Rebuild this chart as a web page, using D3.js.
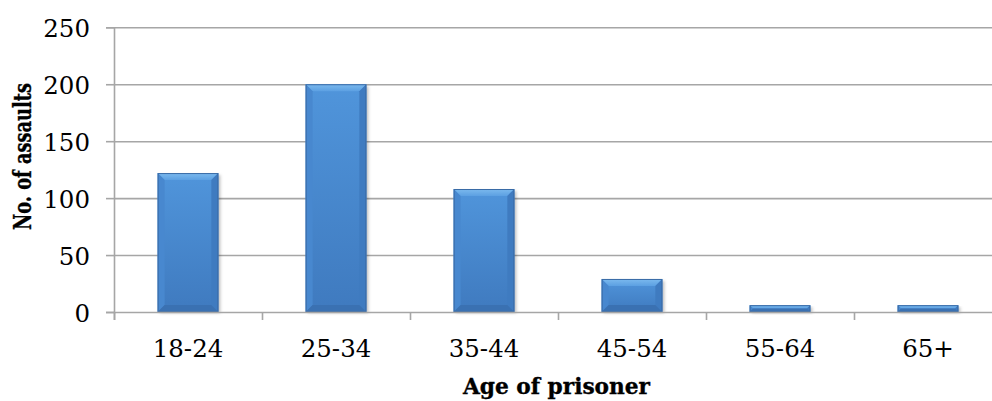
<!DOCTYPE html>
<html>
<head>
<meta charset="utf-8">
<script src="https://cdn.jsdelivr.net/npm/d3@7/dist/d3.min.js"></script>
<style>
  html, body { margin: 0; padding: 0; background: #fff; }
  svg { display: block; }
  .tick text { font-family: "DejaVu Serif", serif; font-size: 24.5px; fill: #000; }
  .title { font-family: "DejaVu Serif Condensed", "DejaVu Serif", serif; font-weight: bold; fill: #000; stroke: #000; stroke-width: 0.35px; }
</style>
</head>
<body>
<svg id="chart" width="992" height="401"></svg>
<script>
// Assaults by age group of prisoner
const categories = ["18-24", "25-34", "35-44", "45-54", "55-64", "65+"];
const assaults = [122, 200, 108, 29, 6, 6];
const yTicks = [0, 50, 100, 150, 200, 250];

const svg = d3.select("#chart");
const plotLeft = 114, plotRight = 1002, plotTop = 27.3, plotBottom = 312;

const x = d3.scaleBand().domain(categories).range([plotLeft, plotRight])
  .paddingInner(0.59).paddingOuter(0.295);
const y = d3.scaleLinear().domain([0, 250]).range([plotBottom, plotTop]);

// category boundaries for the x tick marks
const edges = d3.scalePoint().domain(d3.range(categories.length + 1)).range([plotLeft, plotRight]);

const gridColor = "#a6a6a6";

// horizontal gridlines
const grid = svg.append("g").attr("transform", `translate(${plotLeft},0)`)
  .call(d3.axisLeft(y).tickValues(yTicks.slice(1)).tickSize(-(plotRight - plotLeft)).tickFormat(""));
grid.select(".domain").remove();
grid.selectAll("line").attr("stroke", gridColor).attr("stroke-width", 1.6);

// gradients and shadow
const defs = svg.append("defs");
const face = defs.append("linearGradient").attr("id", "face").attr("x1", 0).attr("y1", 0).attr("x2", 0).attr("y2", 1);
face.append("stop").attr("offset", "0%").attr("stop-color", "#5095db");
face.append("stop").attr("offset", "100%").attr("stop-color", "#3f7abf");
const topBevel = defs.append("linearGradient").attr("id", "topBevel").attr("x1", 0).attr("y1", 0).attr("x2", 0).attr("y2", 1);
topBevel.append("stop").attr("offset", "0%").attr("stop-color", "#7cbaee");
topBevel.append("stop").attr("offset", "100%").attr("stop-color", "#5ca0e2");
const shadow = defs.append("filter").attr("id", "shadow").attr("x", "-20%").attr("y", "-20%").attr("width", "140%").attr("height", "140%");
shadow.append("feGaussianBlur").attr("stdDeviation", 1.6);

// bars with a bevelled look
const bars = svg.append("g").selectAll("g").data(categories.map((c, i) => ({ c, v: assaults[i] })))
  .join("g");

bars.each(function (d) {
  const g = d3.select(this);
  const x0 = x(d.c), w = x.bandwidth();
  const y0 = y(d.v), h = y(0) - y(d.v);
  const b = Math.min(7, h / 2);
  const x1 = x0 + w, y1 = y0 + h;
  g.append("rect").attr("x", x0 + 2).attr("y", y0 + 2).attr("width", w).attr("height", h - 1)
    .attr("fill", "rgba(0,0,0,0.25)").attr("filter", "url(#shadow)");
  g.append("rect").attr("x", x0).attr("y", y0).attr("width", w).attr("height", h).attr("fill", "url(#face)");
  const poly = (pts, fill) => g.append("polygon").attr("points", pts.map(p => p.join(",")).join(" ")).attr("fill", fill);
  poly([[x0, y0], [x1, y0], [x1 - b, y0 + b], [x0 + b, y0 + b]], "url(#topBevel)");
  poly([[x0, y0], [x0 + b, y0 + b], [x0 + b, y1 - b], [x0, y1]], "#4888cf");
  poly([[x1, y0], [x1 - b, y0 + b], [x1 - b, y1 - b], [x1, y1]], "#3f7bc0");
  poly([[x0, y1], [x0 + b, y1 - b], [x1 - b, y1 - b], [x1, y1]], "#3a71b2");
  g.append("rect").attr("x", x0 + 0.5).attr("y", y0 + 0.5).attr("width", w - 1).attr("height", h - 1)
    .attr("fill", "none").attr("stroke", "#3a6ba6").attr("stroke-width", 1);
});

// y axis
const yAxis = svg.append("g").attr("transform", `translate(${plotLeft},0)`)
  .call(d3.axisLeft(y).tickValues(yTicks).tickSize(8).tickPadding(16));
yAxis.selectAll("line, .domain").attr("stroke", gridColor).attr("stroke-width", 1.6);
yAxis.selectAll("text").attr("dy", "0.38em");

// x axis: tick marks at category edges
const xEdges = svg.append("g").attr("transform", `translate(0,${plotBottom})`)
  .call(d3.axisBottom(edges).tickSize(8).tickFormat(""));
xEdges.selectAll("line, .domain").attr("stroke", gridColor).attr("stroke-width", 1.6);

// x axis: category labels
const xLabels = svg.append("g").attr("transform", `translate(0,${plotBottom})`)
  .call(d3.axisBottom(x).tickSize(0));
xLabels.select(".domain").remove();
xLabels.selectAll("text").attr("dy", null).attr("y", 45);

// axis titles
svg.append("text").attr("class", "title")
  .attr("transform", "translate(31,156.5) rotate(-90)")
  .attr("text-anchor", "middle").attr("font-size", 24)
  .attr("textLength", 147).attr("lengthAdjust", "spacingAndGlyphs")
  .text("No. of assaults");

svg.append("text").attr("class", "title")
  .attr("x", 556.5).attr("y", 394)
  .attr("text-anchor", "middle").attr("font-size", 23)
  .attr("textLength", 187).attr("lengthAdjust", "spacingAndGlyphs")
  .text("Age of prisoner");
</script>
</body>
</html>
